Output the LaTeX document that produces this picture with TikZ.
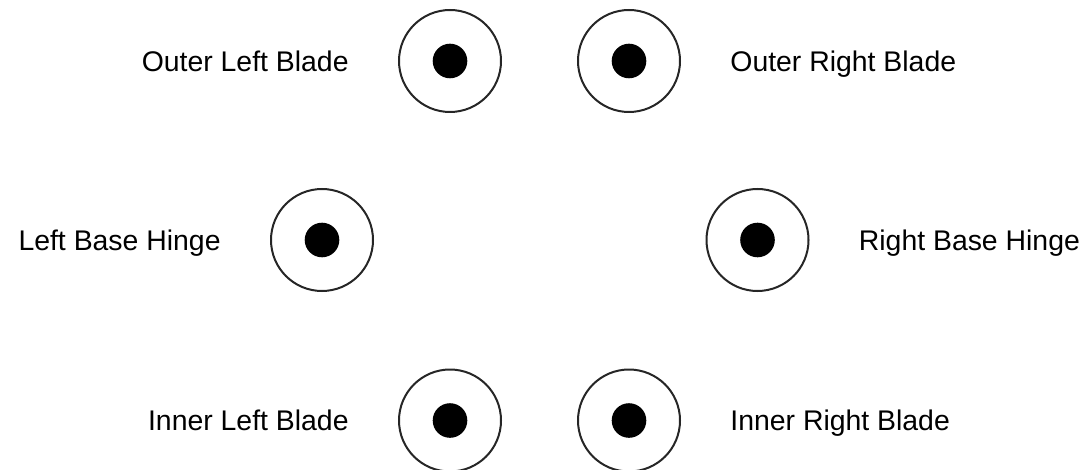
\documentclass[tikz,border=0pt]{standalone}
\usepackage{fontspec}
\setmainfont{Liberation Sans}
\usetikzlibrary{positioning}

\begin{document}
\begin{tikzpicture}[
        x=0.5pt, y=-0.5pt,
        joint/.style={
                draw=black!85,
                line width=1pt,
                circle,
                inner sep=0pt,
                minimum size=51pt
            },
        pin/.style={
                fill=black,
                circle,
                inner sep=0pt,
                minimum size=17.3pt
            },
        partlabel/.style={
                font=\fontsize{14.2}{17}\selectfont,
                text height=10.2pt,
                text depth=0pt,
                inner sep=0pt
            }
    ]
    \useasboundingbox (0,0) rectangle (1086,470);

    % ---- Gap between joint and label ----
    \def\labelgap{24.5pt}

    % ---- Outer blades ----
    \node[joint] (olb) at (450,61) {};
    \node[pin] (olbpin) at (olb.center) {};
    \node[partlabel, left=\labelgap of olb] (olbtext) {Outer Left Blade};

    \node[joint] (orb) at (629,61) {};
    \node[pin] (orbpin) at (orb.center) {};
    \node[partlabel, right=\labelgap of orb] (orbtext) {Outer Right Blade};

    % ---- Base hinges ----
    \node[joint] (lbh) at (322,240) {};
    \node[pin] (lbhpin) at (lbh.center) {};
    \node[partlabel, left=\labelgap of lbh] (lbhtext) {Left Base Hinge};

    \node[joint] (rbh) at (757.5,240) {};
    \node[pin] (rbhpin) at (rbh.center) {};
    \node[partlabel, right=\labelgap of rbh] (rbhtext) {Right Base Hinge};

    % ---- Inner blades ----
    \node[joint] (ilb) at (450,420.5) {};
    \node[pin] (ilbpin) at (ilb.center) {};
    \node[partlabel, left=\labelgap of ilb] (ilbtext) {Inner Left Blade};

    \node[joint] (irb) at (629,420.5) {};
    \node[pin] (irbpin) at (irb.center) {};
    \node[partlabel, right=\labelgap of irb] (irbtext) {Inner Right Blade};
\end{tikzpicture}
\end{document}
